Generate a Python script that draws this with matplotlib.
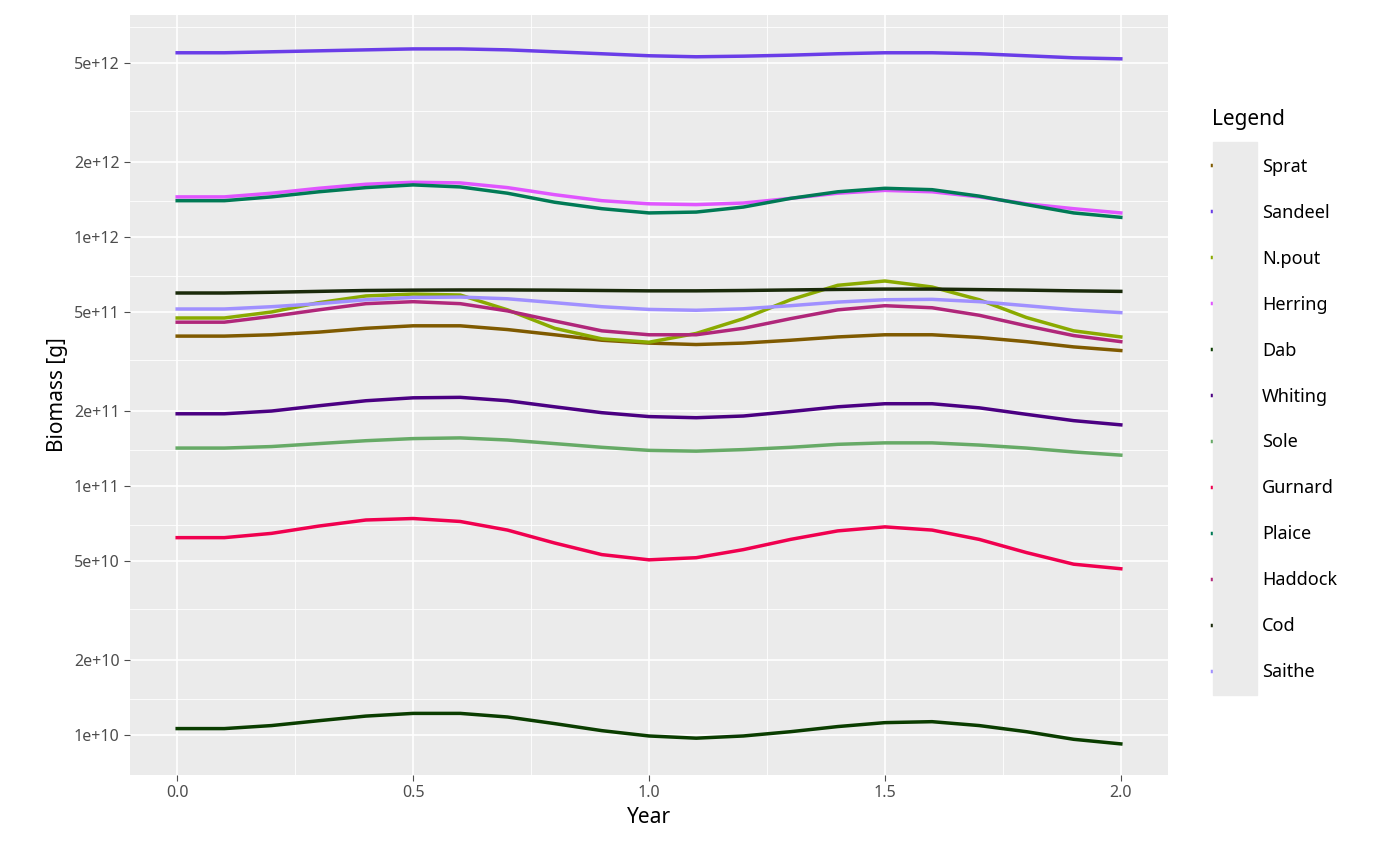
import numpy as np
import matplotlib
matplotlib.use("Agg")
import matplotlib.pyplot as plt
from matplotlib.ticker import FixedLocator, NullFormatter
from matplotlib.patches import Rectangle

plt.rcParams['font.family'] = ['Noto Sans', 'DejaVu Sans']

years = [round(0.1 * i, 1) for i in range(21)]

sprat = [4.0, 4.0, 4.05, 4.15, 4.3, 4.4, 4.4, 4.25, 4.05, 3.85, 3.75, 3.7, 3.75, 3.85, 3.97, 4.05, 4.05, 3.95, 3.8, 3.62, 3.5]
sandeel = [5.5, 5.5, 5.55, 5.6, 5.65, 5.7, 5.7, 5.65, 5.55, 5.45, 5.35, 5.3, 5.33, 5.38, 5.45, 5.5, 5.5, 5.45, 5.35, 5.25, 5.2]
npout = [4.73, 4.73, 5.0, 5.45, 5.8, 5.9, 5.85, 5.1, 4.3, 3.9, 3.78, 4.1, 4.7, 5.6, 6.4, 6.66, 6.3, 5.6, 4.75, 4.2, 3.97]
herring = [14.5, 14.5, 15.0, 15.7, 16.3, 16.6, 16.5, 15.8, 14.8, 14.0, 13.6, 13.5, 13.7, 14.3, 15.0, 15.4, 15.2, 14.5, 13.6, 13.0, 12.5]
dab = [0.106, 0.106, 0.109, 0.114, 0.119, 0.122, 0.122, 0.118, 0.111, 0.104, 0.099, 0.097, 0.099, 0.103, 0.108, 0.112, 0.113, 0.109, 0.103, 0.096, 0.092]
whiting = [1.95, 1.95, 2.0, 2.1, 2.2, 2.26, 2.27, 2.2, 2.08, 1.97, 1.9, 1.88, 1.91, 1.99, 2.08, 2.14, 2.14, 2.06, 1.94, 1.83, 1.76]
sole = [1.42, 1.42, 1.44, 1.48, 1.52, 1.55, 1.56, 1.53, 1.48, 1.43, 1.39, 1.38, 1.4, 1.43, 1.47, 1.49, 1.49, 1.46, 1.42, 1.37, 1.33]
gurnard = [0.62, 0.62, 0.645, 0.69, 0.73, 0.74, 0.72, 0.665, 0.59, 0.53, 0.505, 0.515, 0.555, 0.61, 0.66, 0.685, 0.665, 0.61, 0.54, 0.485, 0.465]
plaice = [14.0, 14.0, 14.5, 15.2, 15.8, 16.2, 15.9, 15.0, 13.8, 13.0, 12.5, 12.6, 13.2, 14.3, 15.2, 15.7, 15.5, 14.6, 13.5, 12.5, 12.0]
haddock = [4.55, 4.55, 4.8, 5.1, 5.4, 5.5, 5.4, 5.05, 4.6, 4.2, 4.05, 4.05, 4.3, 4.7, 5.1, 5.3, 5.2, 4.85, 4.4, 4.02, 3.8]
cod = [5.96, 5.96, 6.0, 6.05, 6.1, 6.12, 6.13, 6.13, 6.12, 6.1, 6.08, 6.08, 6.1, 6.13, 6.16, 6.18, 6.18, 6.15, 6.12, 6.08, 6.05]
saithe = [5.14, 5.14, 5.25, 5.4, 5.6, 5.72, 5.74, 5.65, 5.45, 5.25, 5.12, 5.08, 5.15, 5.3, 5.48, 5.6, 5.62, 5.5, 5.3, 5.1, 4.97]

species = ["Sprat", "Sandeel", "N.pout", "Herring", "Dab", "Whiting", "Sole",
           "Gurnard", "Plaice", "Haddock", "Cod", "Saithe"]
series = [sprat, sandeel, npout, herring, dab, whiting, sole, gurnard, plaice, haddock, cod, saithe]
scales = [1e11, 1e12, 1e11, 1e11, 1e11, 1e11, 1e11, 1e11, 1e11, 1e11, 1e11, 1e11]
colors = ["#7f5a00", "#6a3de8", "#8aaa00", "#e055ff", "#0a3d00", "#4b0082",
          "#66aa66", "#f0004f", "#007a55", "#b0277a", "#1a2a0a", "#a090ff"]

fig = plt.figure(figsize=(14, 8.65), dpi=100)
ax = fig.add_axes([130 / 1400, 90 / 865, 1038 / 1400, 760 / 865])
ax.set_facecolor("#ebebeb")
for name, vals, sc, c in zip(species, series, scales, colors):
    ax.plot(years, np.array(vals) * sc, color=c, lw=2.5, label=name)

ax.set_yscale("log")
ax.set_ylim(6.9e9, 7.8e12)
ax.set_xlim(-0.1, 2.1)
major = [1e10, 2e10, 5e10, 1e11, 2e11, 5e11, 1e12, 2e12, 5e12]
ax.yaxis.set_major_locator(FixedLocator(major))
ax.set_yticklabels(["1e+10", "2e+10", "5e+10", "1e+11", "2e+11", "5e+11", "1e+12", "2e+12", "5e+12"])
minor = [1.4e10, 3.2e10, 7e10, 1.4e11, 3.2e11, 7e11, 1.4e12, 3.2e12, 7e12]
ax.yaxis.set_minor_locator(FixedLocator(minor))
ax.yaxis.set_minor_formatter(NullFormatter())
ax.set_xticks([0, 0.5, 1.0, 1.5, 2.0])
ax.set_xticklabels(["0.0", "0.5", "1.0", "1.5", "2.0"])
ax.set_xticks([0.25, 0.75, 1.25, 1.75], minor=True)
ax.xaxis.set_minor_formatter(NullFormatter())
ax.grid(which="major", color="white", lw=1.2)
ax.grid(which="minor", color="white", lw=0.6)
ax.set_axisbelow(True)
for s in ax.spines.values():
    s.set_visible(False)
ax.tick_params(which="major", colors="#4d4d4d", labelsize=11.5, length=4)
ax.tick_params(which="minor", length=0)
ax.set_xlabel("Year", fontsize=15)
ax.set_ylabel("Biomass [g]", fontsize=15)

# grey background behind legend keys
fig.patches.append(Rectangle((1213 / 1400, 1 - 695 / 865), 44 / 1400, 553 / 865,
                             transform=fig.transFigure, color="#ebebeb", zorder=0))

leg = ax.legend(title="Legend", loc="center left", bbox_to_anchor=(1.035, 0.5),
                frameon=False, fontsize=13, title_fontsize=15,
                handlelength=2.0, labelspacing=1.55, borderaxespad=0)
leg._legend_box.align = "left"

fig.savefig("out.png", dpi=100)
